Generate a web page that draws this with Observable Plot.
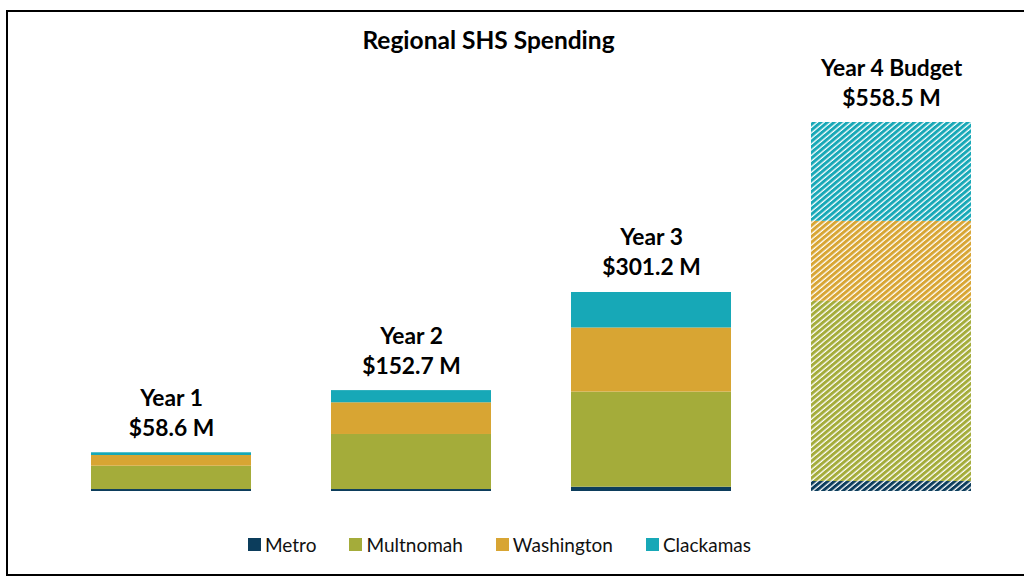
<!DOCTYPE html>
<html><head><meta charset="utf-8">
<script src="https://cdn.jsdelivr.net/npm/d3@7"></script>
<script src="https://cdn.jsdelivr.net/npm/@observablehq/plot@0.6"></script>
<style>
html,body{margin:0;padding:0;background:#fff;}
#wrap{position:relative;width:1024px;height:577px;overflow:hidden;font-family:Lato,sans-serif;}
#frame{position:absolute;left:6px;top:10px;width:1040px;height:566px;border:2px solid #000;box-sizing:border-box;}
#title{position:absolute;left:0;top:28px;width:977px;text-align:center;font-size:24.5px;font-weight:bold;line-height:24px;color:#000;}
#chart{position:absolute;left:0;top:40px;}
#chart svg{overflow:visible;}
#legend{position:absolute;left:248px;top:528px;}
.lg-swatches{margin:0 !important;}
.lg-swatch{margin-right:33px !important;}
.lg-swatch > svg{margin-right:4px !important;}
</style></head>
<body><div id="wrap"><div id="frame"></div><div id="title">Regional SHS Spending</div><div id="chart"></div><div id="legend"></div></div>
<script>
const years = ["Year 1", "Year 2", "Year 3", "Year 4 Budget"];
const budgetYear = "Year 4 Budget";
const regions = ["Metro", "Multnomah", "Washington", "Clackamas"];
const colors = ["#0c3d5c", "#a4ac3a", "#d8a533", "#17a8b7"];
const metro = [3.0, 3.0, 6.5, 15.1];
const multnomah = [35.3, 83.3, 144.0, 272.7];
const washington = [16.2, 48.0, 97.0, 121.2];
const clackamas = [4.1, 18.4, 53.7, 149.5];
const totals = [58.6, 152.7, 301.2, 558.5];

const series = [metro, multnomah, washington, clackamas];
const data = [];
years.forEach((yr, j) => regions.forEach((r, i) => data.push({year: yr, region: r, idx: i, value: series[i][j]})));
const labels = years.map((yr, j) => ({year: yr, total: totals[j]}));

const chart = Plot.plot({
  width: 1024, height: 475,
  marginTop: 82, marginBottom: 24, marginLeft: 51, marginRight: 13,
  style: {fontFamily: "Lato, sans-serif", background: "transparent"},
  x: {domain: years, paddingInner: 1/3, paddingOuter: 1/6, axis: null},
  y: {domain: [0, 558.5], axis: null},
  color: {type: "identity"},
  marks: [
    Plot.barY(data, {x: "year", y: "value", fill: d => d.year === budgetYear ? `url(#hatch-${d.idx})` : colors[d.idx]}),
    Plot.text(labels, {x: "year", y: "total", text: d => `${d.year}\n$${d.total.toFixed(1)} M`,
      lineAnchor: "bottom", lineHeight: 30/22.8, dy: -17, fontSize: 22.8, fontWeight: "bold", fill: "#000"})
  ]
});

const defs = d3.select(chart).insert("defs", ":first-child");
colors.forEach((c, i) => {
  const p = defs.append("pattern").attr("id", `hatch-${i}`).attr("patternUnits", "userSpaceOnUse")
    .attr("width", 4.3).attr("height", 10).attr("patternTransform", "rotate(50)");
  p.append("rect").attr("width", 4.3).attr("height", 10).attr("fill", "#fff");
  p.append("rect").attr("width", 3.0).attr("height", 10).attr("fill", c);
});
document.getElementById("chart").appendChild(chart);

const legend = Plot.legend({
  color: {type: "ordinal", domain: regions, range: colors},
  swatchSize: 13, className: "lg",
  style: {fontSize: "19px", fontFamily: "Lato, sans-serif", color: "#111"}
});
document.getElementById("legend").appendChild(legend);
</script></body></html>
